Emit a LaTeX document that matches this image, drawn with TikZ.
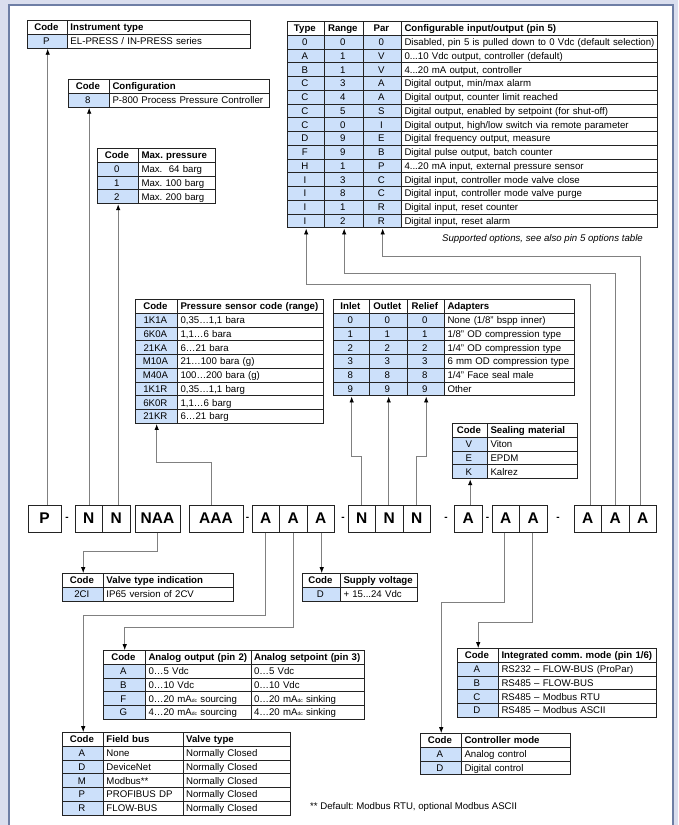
\documentclass[tikz,border=0pt]{standalone}
\usepackage{fontspec}
\setmainfont{Liberation Sans}
\usetikzlibrary{matrix,arrows.meta}
\frenchspacing
\definecolor{bgc}{RGB}{218,222,238}
\definecolor{panelc}{RGB}{110,126,165}
\definecolor{codeblue}{RGB}{204,224,250}
\definecolor{gridc}{RGB}{35,35,35}
\definecolor{connc}{RGB}{128,128,128}
\newcommand\tabfont{\fontsize{9.65}{11}\selectfont\frenchspacing}
\newcommand\dcsub{{\fontsize{5}{5}\selectfont dc}}
\tikzset{
  tbl/.style={matrix of nodes, matrix anchor=north west, inner sep=0pt,
    column sep=-1pt, row sep=-1pt,
    nodes={draw=gridc, line width=1pt, minimum height=13.75pt, text height=8.2pt,
      text depth=1.8pt, inner ysep=0pt, anchor=center, font=\tabfont},
    row 1/.style={nodes={fill=white, font=\tabfont\bfseries}}},
  cc/.style={minimum width=#1, inner xsep=0pt, align=center, fill=codeblue},
  dc/.style={text width=#1, inner xsep=2.8pt, align=left, fill=white,
    execute at begin node={\leavevmode\hbox\bgroup}, execute at end node={\egroup}},
  cbox/.style={draw=gridc, line width=1pt, minimum height=27pt, inner sep=0pt,
    font=\fontsize{15.5}{16}\selectfont\bfseries, fill=white},
  dsh/.style={inner sep=0pt, font=\fontsize{10}{12}\selectfont\bfseries},
  conn/.style={draw=connc, line width=0.9pt, -{Latex[length=6pt,width=4.5pt,color=black]}},
}
\begin{document}
\begin{tikzpicture}[x=1pt,y=-1pt]
\useasboundingbox (0,0) rectangle (678,825);
\clip (0,0) rectangle (678,825);
\fill[bgc] (0,0) rectangle (678,825);
\draw[panelc, line width=1.4pt, fill=white] (9,5) rectangle (673,840);

% ---------- tables ----------
\matrix (t1) [tbl, at={(27,20)}, column 1/.style={nodes={cc=40pt}}, column 2/.style={nodes={dc=177pt}}] {
Code & Instrument type \\
P & EL-PRESS / IN-PRESS series \\
};
\matrix (t2) [tbl, at={(68,79)}, column 1/.style={nodes={cc=41pt}}, column 2/.style={nodes={dc=154pt}}] {
Code & Configuration \\
8 & P-800 Process Pressure Controller \\
};
\matrix (t3) [tbl, at={(97,148)}, column 1/.style={nodes={cc=41pt}}, column 2/.style={nodes={dc=71pt}}] {
Code & Max. pressure \\
0 & Max.\ \ 64 barg \\
1 & Max. 100 barg \\
2 & Max. 200 barg \\
};
\matrix (t4) [tbl, at={(287,21)}, column 1/.style={nodes={cc=37pt}}, column 2/.style={nodes={cc=39pt}},
  column 3/.style={nodes={cc=38pt}}, column 4/.style={nodes={dc=250pt}}] {
Type & Range & Par & Configurable input/output (pin 5) \\
0 & 0 & 0 & Disabled, pin 5 is pulled down to 0 Vdc (default selection) \\
A & 1 & V & 0...10 Vdc output, controller (default) \\
B & 1 & V & 4...20 mA output, controller \\
C & 3 & A & Digital output, min/max alarm \\
C & 4 & A & Digital output, counter limit reached \\
C & 5 & S & Digital output, enabled by setpoint (for shut-off) \\
C & 0 & I & Digital output, high/low switch via remote parameter \\
D & 9 & E & Digital frequency output, measure \\
F & 9 & B & Digital pulse output, batch counter \\
H & 1 & P & 4...20 mA input, external pressure sensor \\
I & 3 & C & Digital input, controller mode valve close \\
I & 8 & C & Digital input, controller mode valve purge \\
I & 1 & R & Digital input, reset counter \\
I & 2 & R & Digital input, reset alarm \\
};
\node[font=\fontsize{9.65}{11}\selectfont\itshape, anchor=east, inner sep=0pt] (cap) at (643,239)
  {Supported options, see also pin 5 options table};
\matrix (t5) [tbl, at={(135,299)}, column 1/.style={nodes={cc=42pt}}, column 2/.style={nodes={dc=140pt}}] {
Code & Pressure sensor code (range) \\
1K1A & 0,35…1,1 bara \\
6K0A & 1,1…6 bara \\
21KA & 6…21 bara \\
M10A & 21…100 bara (g) \\
M40A & 100…200 bara (g) \\
1K1R & 0,35…1,1 barg \\
6K0R & 1,1…6 barg \\
21KR & 6…21 barg \\
};
\matrix (t6) [tbl, at={(333,299)}, column 1/.style={nodes={cc=36pt}}, column 2/.style={nodes={cc=38pt}},
  column 3/.style={nodes={cc=37pt}}, column 4/.style={nodes={dc=124pt}}] {
Inlet & Outlet & Relief & Adapters \\
0 & 0 & 0 & None (1/8" bspp inner) \\
1 & 1 & 1 & 1/8" OD compression type \\
2 & 2 & 2 & 1/4" OD compression type \\
3 & 3 & 3 & 6 mm OD compression type \\
8 & 8 & 8 & 1/4" Face seal male \\
9 & 9 & 9 & Other \\
};
\matrix (t7) [tbl, at={(452,423)}, column 1/.style={nodes={cc=35pt}}, column 2/.style={nodes={dc=84pt}}] {
Code & Sealing material \\
V & Viton \\
E & EPDM \\
K & Kalrez \\
};
\matrix (t8) [tbl, at={(62,573)}, column 1/.style={nodes={cc=41pt}}, column 2/.style={nodes={dc=124pt}}] {
Code & Valve type indication \\
2CI & IP65 version of 2CV \\
};
\matrix (t9) [tbl, at={(302,573)}, column 1/.style={nodes={cc=38pt}}, column 2/.style={nodes={dc=71pt}}] {
Code & Supply voltage \\
D & + 15...24 Vdc \\
};
\matrix (t10) [tbl, at={(103,650)}, column 1/.style={nodes={cc=42pt}}, column 2/.style={nodes={dc=100pt}},
  column 3/.style={nodes={dc=108pt}}] {
Code & Analog output (pin 2) & Analog setpoint (pin 3) \\
A & 0…5 Vdc & 0…5 Vdc \\
B & 0…10 Vdc & 0…10 Vdc \\
F & 0…20 mA\dcsub{} sourcing & 0…20 mA\dcsub{} sinking \\
G & 4…20 mA\dcsub{} sourcing & 4…20 mA\dcsub{} sinking \\
};
\matrix (t11) [tbl, at={(62,732)}, column 1/.style={nodes={cc=41pt}}, column 2/.style={nodes={dc=74pt}},
  column 3/.style={nodes={dc=102pt}}] {
Code & Field bus & Valve type \\
A & None & Normally Closed \\
D & DeviceNet & Normally Closed \\
M & Modbus** & Normally Closed \\
P & PROFIBUS DP & Normally Closed \\
R & FLOW-BUS & Normally Closed \\
};
\matrix (t12) [tbl, at={(420,733)}, column 1/.style={nodes={cc=41pt}}, column 2/.style={nodes={dc=103pt}}] {
Code & Controller mode \\
A & Analog control \\
D & Digital control \\
};
\matrix (t13) [tbl, at={(457,648)}, column 1/.style={nodes={cc=41pt}}, column 2/.style={nodes={dc=152pt}}] {
Code & Integrated comm. mode (pin 1/6) \\
A & RS232 – FLOW-BUS (ProPar) \\
B & RS485 – FLOW-BUS \\
C & RS485 – Modbus RTU \\
D & RS485 – Modbus ASCII \\
};
\node[font=\tabfont, anchor=west, inner sep=0pt] (foot) at (310,807)
  {** Default: Modbus RTU, optional Modbus ASCII};

% ---------- code row ----------
\node[cbox, minimum width=33pt] (cP) at (44.5,518.5) {P};
\node[dsh] (d1) at (67,518.5) {-};
\node[cbox, minimum width=27.5pt] (cN1) at (88.75,518.5) {N};
\node[cbox, minimum width=27.5pt] (cN2) at (116.25,518.5) {N};
\node[cbox, minimum width=45pt] (cNAA) at (157.5,518.5) {NAA};
\node[cbox, minimum width=54pt] (cAAA) at (216,518.5) {AAA};
\node[dsh] (d2) at (247.5,518.5) {-};
\node[cbox, minimum width=27.5pt] (cA1) at (265.75,518.5) {A};
\node[cbox, minimum width=27.5pt] (cA2) at (293.25,518.5) {A};
\node[cbox, minimum width=27.5pt] (cA3) at (320.75,518.5) {A};
\node[dsh] (d3) at (343,518.5) {-};
\node[cbox, minimum width=27.5pt] (cN3) at (361.75,518.5) {N};
\node[cbox, minimum width=27.5pt] (cN4) at (389.25,518.5) {N};
\node[cbox, minimum width=27.5pt] (cN5) at (416.75,518.5) {N};
\node[dsh] (d4) at (446,518.5) {-};
\node[cbox, minimum width=28.5pt] (cS) at (468.25,518.5) {A};
\node[dsh] (d5) at (487.5,518.5) {-};
\node[cbox, minimum width=27.5pt] (cA4) at (505.75,518.5) {A};
\node[cbox, minimum width=27.5pt] (cA5) at (533.25,518.5) {A};
\node[dsh] (d6) at (558,518.5) {-};
\node[cbox, minimum width=27.5pt] (cA6) at (587.75,518.5) {A};
\node[cbox, minimum width=27.5pt] (cA7) at (615.25,518.5) {A};
\node[cbox, minimum width=27.5pt] (cA8) at (642.75,518.5) {A};

% ---------- connectors up ----------
\draw[conn] (cP.north -| t1-2-1.south) -- (t1-2-1.south);
\draw[conn] (cN1.north -| t2-2-1.south) -- (t2-2-1.south);
\draw[conn] (cN2.north -| t3-4-1.south) -- (t3-4-1.south);
\draw[conn] ([xshift=-5pt]cAAA.north) -- ++(0,-42) -| (t5-9-1.south);
\draw[conn] (cN3.north) -- ++(0,-48) -| (t6-7-1.south);
\draw[conn] (cN4.north -| t6-7-2.south) -- (t6-7-2.south);
\draw[conn] (cN5.north) -- ++(0,-48) -| (t6-7-3.south);
\draw[conn] (cS.north -| t7-4-1.south) -- (t7-4-1.south);
\draw[conn] ([xshift=3pt]cA6.north) -- ++(0,-220) -| (t4-15-1.south);
\draw[conn] (cA7.north) -- ++(0,-231) -| (t4-15-2.south);
\draw[conn] ([xshift=-2.5pt]cA8.north) -- ++(0,-248) -| (t4-15-3.south);

% ---------- connectors down ----------
\draw[conn] (cNAA.south) -- ++(0,19) -| (t8-1-1.north);
\draw[conn] (cA3.south -| t9-1-1.north) -- (t9-1-1.north);
\draw[conn] (cA1.south) -- ++(0,83) -| (t11-1-1.north);
\draw[conn] (cA2.south) -- ++(0,95) -| (t10-1-1.north);
\draw[conn] ([xshift=-1.5pt]cA4.south) -- ++(0,70) -| (t12-1-1.north);
\draw[conn] ([xshift=-1pt]cA5.south) -- ++(0,90) -| (t13-1-1.north);
\end{tikzpicture}
\end{document}
